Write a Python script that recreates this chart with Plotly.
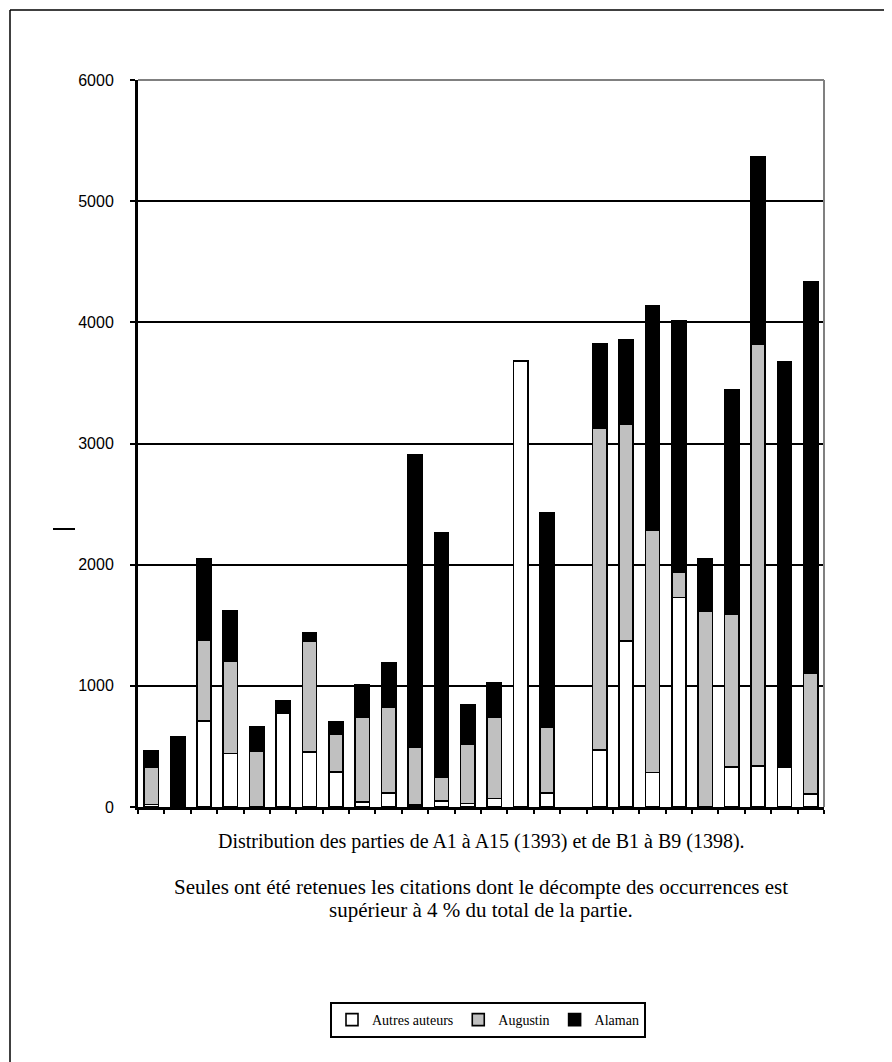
import plotly.graph_objects as go

categories = [f"P{i}" for i in range(1, 27)]
autres = [20, None, 710, 440, None, 775, 455, 290, 40, 115, 15, 50, 30, 70, 3680, 115, None,
          470, 1370, 285, 1730, None, 330, 340, 330, 105]
augustin = [310, None, 670, 765, 460, None, 915, 312, 703, 710, 480, 198, 490, 673, None, 545, None,
            2660, 1790, 2000, 210, 1618, 1260, 3480, None, 1000]
alaman = [135, 580, 670, 415, 200, 100, 70, 100, 265, 365, 2415, 2015, 325, 280, None, 1770, None,
          690, 695, 1850, 2075, 430, 1855, 1550, 3345, 3230]

O = 8  # page body offset
W, H = 892 - O, 1062 - O
L, R, T, B = 138 - O, 824 - O, 80 - O, 807 - O

def px(x):
    return (x - O - L) / (R - L)

def py(y):
    return (B - (y - O)) / (B - T)

fig = go.Figure()
for name, vals, col in [("Autres auteurs", autres, "#FFFFFF"),
                        ("Augustin", augustin, "#C0C0C0"),
                        ("Alaman", alaman, "#000000")]:
    fig.add_trace(go.Bar(x=categories, y=vals, name=name, width=0.54,
                         marker=dict(color=col, line=dict(color="#000000", width=1.6))))

serif = "Liberation Serif, Times New Roman, serif"
fig.update_layout(
    width=W, height=H, barmode="stack",
    margin=dict(l=L, r=W - R, t=T, b=H - B),
    plot_bgcolor="#FFFFFF", paper_bgcolor="#FFFFFF",
    showlegend=True,
    legend=dict(orientation="h", x=px(488), y=py(1020), xanchor="center", yanchor="middle",
                bordercolor="#000000", borderwidth=2, bgcolor="#FFFFFF",
                font=dict(family=serif, size=14, color="#000000"),
                itemwidth=30, traceorder="normal", tracegroupgap=0),
    xaxis=dict(type="category", categoryorder="array", categoryarray=categories,
               showticklabels=False, showgrid=False, showline=True, linecolor="#000000",
               linewidth=3, ticks="outside", ticklen=4, tickwidth=2, tickcolor="#000000",
               tickson="boundaries", range=[-0.5, 25.5], zeroline=False),
    yaxis=dict(range=[0, 6000], dtick=1000, showgrid=True, gridcolor="#000000", gridwidth=2,
               showline=True, linecolor="#000000", linewidth=3, ticks="outside", ticklen=5,
               tickwidth=2, tickcolor="#000000", zeroline=False, ticklabelstandoff=13,
               tickfont=dict(family="Liberation Sans, Arial, sans-serif", size=16, color="#000000")),
    annotations=[
        dict(text="Distribution des parties de A1 à A15 (1393) et de B1 à B9 (1398).",
             x=px(481), y=py(841), xref="paper", yref="paper", showarrow=False,
             xanchor="center", yanchor="middle",
             font=dict(family=serif, size=20, color="#000000")),
        dict(text="Seules ont été retenues les citations dont le décompte des occurrences est",
             x=px(481), y=py(887), xref="paper", yref="paper", showarrow=False,
             xanchor="center", yanchor="middle",
             font=dict(family=serif, size=21, color="#000000")),
        dict(text="supérieur à 4 % du total de la partie.",
             x=px(481), y=py(910), xref="paper", yref="paper", showarrow=False,
             xanchor="center", yanchor="middle",
             font=dict(family=serif, size=21, color="#000000")),
    ],
    shapes=[
        dict(type="line", xref="paper", yref="paper", x0=0, x1=1, y0=1, y1=1,
             line=dict(color="#808080", width=2)),
        dict(type="line", xref="paper", yref="paper", x0=1, x1=1, y0=0, y1=1,
             line=dict(color="#808080", width=2)),
        dict(type="line", xref="paper", yref="paper", x0=px(53), x1=px(75), y0=py(529), y1=py(529),
             line=dict(color="#000000", width=2)),
        dict(type="line", xref="paper", yref="paper", x0=px(10), x1=px(892), y0=py(10), y1=py(10),
             line=dict(color="#000000", width=1.5)),
        dict(type="line", xref="paper", yref="paper", x0=px(10), x1=px(10), y0=py(10), y1=py(1062),
             line=dict(color="#000000", width=1.5)),
    ],
)

fig.write_html("out.html")
